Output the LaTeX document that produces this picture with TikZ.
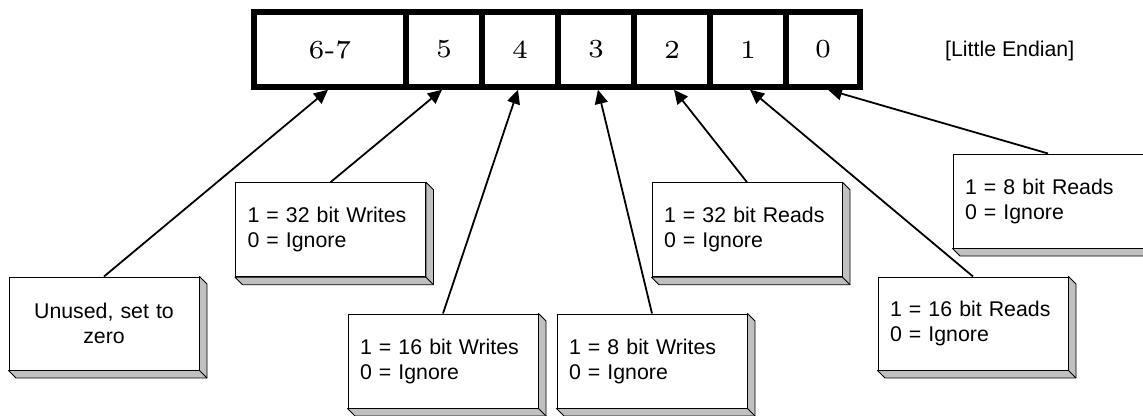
\documentclass[tikz,border=0pt]{standalone}
\usepackage{fontspec}
\setmainfont{Liberation Sans}
\newfontfamily\labelfont{Liberation Sans}
\newfontfamily\bitfont[Extension=.otf]{lmroman6-regular}
\usetikzlibrary{arrows.meta}
\definecolor{bevelgrey}{RGB}{192,192,192}

\tikzset{
  cell/.style={draw, line width=5.5pt, minimum height=75pt, inner sep=0pt,
    font=\bitfont\fontsize{26}{30}\selectfont},
  note/.style={draw, line width=1pt, fill=white, inner ysep=0pt, inner xsep=12pt,
    text width=166pt, minimum height=94pt, align=left,
    font=\labelfont\fontsize{21.3}{25}\selectfont},
  link/.style={line width=1.8pt, -{Triangle[length=14pt,width=13pt]}},
  tag/.style={inner sep=0pt, font=\labelfont\fontsize{21.3}{25}\selectfont},
}

% grey 3D edge on the right and bottom of a note box
\newcommand\bevelof[1]{%
  \filldraw[fill=bevelgrey, draw=black, line width=0.8pt, line join=round]
    (#1.north east) -- ++(7.5,7.5) -- ([shift={(7.5,7.5)}]#1.south east)
    -- ([shift={(7.5,7.5)}]#1.south west) -- (#1.south west)
    -- (#1.south east) -- cycle;
  \draw[line width=0.8pt] (#1.south east) -- ++(7.5,7.5);
}

\begin{document}
\begin{tikzpicture}[x=1pt, y=-1pt]
\useasboundingbox (0,0) rectangle (1143,415);

% register cells
\node[cell, minimum width=152pt] (c67) at (330,49.5) {6-7};
\node[cell, minimum width=76pt]  (c5)  at (444,49.5) {5};
\node[cell, minimum width=76pt]  (c4)  at (520,49.5) {4};
\node[cell, minimum width=76pt]  (c3)  at (596,49.5) {3};
\node[cell, minimum width=76pt]  (c2)  at (672,49.5) {2};
\node[cell, minimum width=76pt]  (c1)  at (748,49.5) {1};
\node[cell, minimum width=74pt]  (c0)  at (823,49.5) {0};

\node[tag, anchor=base west] (endian) at (945,56.7) {[Little Endian]};

% description boxes
\node[note, align=center, minimum height=93pt] (bU) at (104,323.5)
  {Unused, set to\\zero};
\node[note] (bW32) at (330.5,229.7) {1 = 32 bit Writes\\0 = Ignore};
\node[note] (bW16) at (443,361)     {1 = 16 bit Writes\\0 = Ignore};
\node[note] (bW8)  at (652,361)     {1 = 8 bit Writes\\0 = Ignore};
\node[note] (bR32) at (747,229.7)   {1 = 32 bit Reads\\0 = Ignore};
\node[note, minimum height=93pt] (bR16) at (973,323.5)
  {1 = 16 bit Reads\\0 = Ignore};
\node[note] (bR8)  at (1048,201)    {1 = 8 bit Reads\\0 = Ignore};

\bevelof{bU}
\bevelof{bW32}
\bevelof{bW16}
\bevelof{bW8}
\bevelof{bR32}
\bevelof{bR16}
\bevelof{bR8}

% pointers from each box to its bit field
\draw[link] (bU.north)   -- ([xshift=-2pt]c67.south);
\draw[link] (bW32.north) -- ([xshift=-2pt]c5.south);
\draw[link] (bW16.north) -- ([xshift=-2pt]c4.south);
\draw[link] (bW8.north)  -- ([xshift=2pt]c3.south);
\draw[link] (bR32.north) -- ([xshift=2pt]c2.south);
\draw[link] (bR16.north) -- ([xshift=2pt]c1.south);
\draw[link] (bR8.north)  -- ([xshift=5pt]c0.south);
\end{tikzpicture}
\end{document}
